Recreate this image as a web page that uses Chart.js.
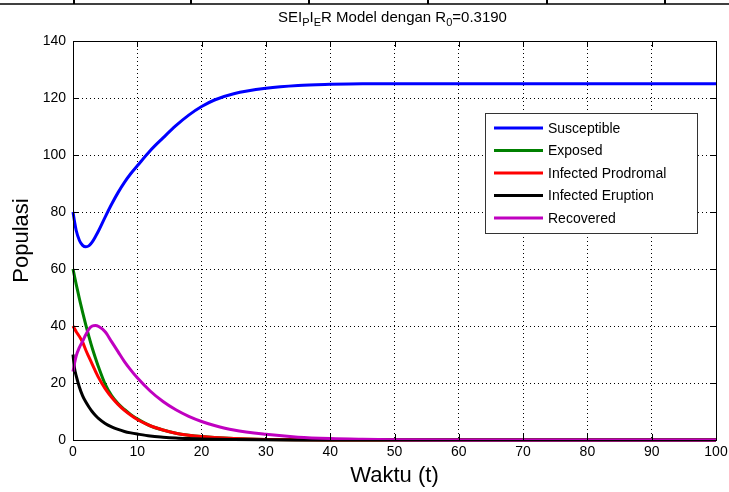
<!DOCTYPE html>
<html>
<head>
<meta charset="utf-8">
<script src="https://cdn.jsdelivr.net/npm/chart.js@4.4.0/dist/chart.umd.min.js"></script>
<style>
  html, body { margin: 0; padding: 0; background: #fff; }
  #wrap { width: 729px; height: 492px; position: relative; }
</style>
</head>
<body>
<div id="wrap"><canvas id="mychart"></canvas></div>
<script>
// time points (t) and population values
const times       = [0, 0.25, 0.5, 1, 1.5, 2, 2.5, 3, 3.5, 4, 5, 6, 7, 8, 9, 10, 12, 14, 16, 18, 20, 22, 25, 30, 35, 40, 45, 50, 60, 70, 80, 90, 100];
const susceptible = [80, 76.5, 73.5, 70, 68.3, 67.8, 68.2, 69.5, 71.4, 73.5, 78.2, 82.7, 86.8, 90.4, 93.5, 96.2, 101.5, 106, 110.3, 114, 117, 119.3, 121.5, 123.4, 124.4, 124.8, 125, 125, 125, 125, 125, 125, 125];
const exposed     = [60, 57.3, 54.6, 49.5, 44.8, 40.3, 36.1, 32.2, 28.7, 25.4, 19.6, 15.6, 12.8, 10.7, 8.9, 7.4, 5.0, 3.5, 2.4, 1.7, 1.2, 0.85, 0.5, 0.2, 0.08, 0.03, 0.01, 0, 0, 0, 0, 0, 0];
const prodromal   = [40, 39, 38, 36.3, 34.3, 31.5, 29, 26.5, 24.1, 21.8, 18, 15, 12.5, 10.4, 8.7, 7.2, 5.0, 3.5, 2.4, 1.7, 1.2, 0.85, 0.5, 0.2, 0.08, 0.03, 0.01, 0, 0, 0, 0, 0, 0];
const eruption    = [30, 25, 22.5, 18.5, 15.5, 13.3, 11.5, 9.9, 8.6, 7.5, 5.8, 4.6, 3.7, 3.0, 2.5, 2.1, 1.4, 1.0, 0.7, 0.5, 0.35, 0.25, 0.15, 0.05, 0.02, 0.01, 0, 0, 0, 0, 0, 0, 0];
const recovered   = [24, 27, 29.5, 32.5, 34.7, 37, 39, 40, 40.2, 39.8, 38, 34.5, 31, 27.5, 24.5, 21.8, 17.2, 13.5, 10.6, 8.3, 6.5, 5.1, 3.5, 2.0, 1.0, 0.5, 0.25, 0.1, 0, 0, 0, 0, 0];

const seriesNames  = ['Susceptible', 'Exposed', 'Infected Prodromal', 'Infected Eruption', 'Recovered'];
const seriesValues = [susceptible, exposed, prodromal, eruption, recovered];
const seriesColors = ['#0000ff', '#008000', '#ff0000', '#000000', '#c000c0'];

const FONT = '"Liberation Sans", Arial, sans-serif';

// extra drawing: frame, inward ticks, title with subscripts, boxed legend
const decor = {
  id: 'decor',
  beforeDraw(chart) {
    const c = chart.ctx;
    c.save();
    c.fillStyle = '#fff';
    c.fillRect(0, 0, chart.width, chart.height);
    c.restore();
  },
  afterDraw(chart) {
    const c = chart.ctx;
    const a = chart.chartArea;
    const xs = chart.scales.x, ys = chart.scales.y;
    c.save();

    // leftover edge of the figure above
    c.strokeStyle = '#000';
    c.lineWidth = 1.5;
    c.beginPath();
    c.moveTo(0, 4); c.lineTo(chart.width, 4);
    c.stroke();
    c.lineWidth = 2;
    c.beginPath();
    [74, 191, 309, 428, 547, 665].forEach(px => { c.moveTo(px, 0); c.lineTo(px, 4); });
    c.stroke();

    // plot frame
    c.lineWidth = 1;
    c.strokeRect(Math.round(a.left) + 0.5, Math.round(a.top) + 0.5, Math.round(a.right - a.left), Math.round(a.bottom - a.top));

    // inward tick marks
    c.beginPath();
    xs.ticks.forEach(t => {
      const px = Math.round(xs.getPixelForValue(t.value)) + 0.5;
      c.moveTo(px, a.bottom); c.lineTo(px, a.bottom - 6);
      c.moveTo(px, a.top); c.lineTo(px, a.top + 6);
    });
    ys.ticks.forEach(t => {
      const py = Math.round(ys.getPixelForValue(t.value)) + 0.5;
      c.moveTo(a.left, py); c.lineTo(a.left + 6, py);
      c.moveTo(a.right, py); c.lineTo(a.right - 6, py);
    });
    c.stroke();

    // title with subscripts
    const parts = [['SEI', 0], ['P', 1], ['I', 0], ['E', 1], ['R Model dengan R', 0], ['0', 1], ['=0.3190', 0]];
    const mainF = '15px ' + FONT, subF = '11px ' + FONT;
    let total = 0;
    parts.forEach(p => { c.font = p[1] ? subF : mainF; total += c.measureText(p[0]).width; });
    let x = (a.left + a.right) / 2 - 2 - total / 2;
    const base = 22;
    c.fillStyle = '#000';
    c.textBaseline = 'alphabetic';
    c.textAlign = 'left';
    parts.forEach(p => {
      c.font = p[1] ? subF : mainF;
      c.fillText(p[0], x, p[1] ? base + 4 : base);
      x += c.measureText(p[0]).width;
    });

    // legend box
    const bx = a.right - 231, by = 113, bw = 212, bh = 120;
    c.fillStyle = '#fff';
    c.fillRect(bx, by, bw, bh);
    c.strokeStyle = '#333';
    c.lineWidth = 1;
    c.strokeRect(bx + 0.5, by + 0.5, bw, bh);
    c.font = '14px ' + FONT;
    c.textBaseline = 'middle';
    chart.data.datasets.forEach((ds, i) => {
      const ly = by + 15 + i * 22.5;
      c.strokeStyle = ds.borderColor;
      c.lineWidth = 3;
      c.beginPath();
      c.moveTo(bx + 9, ly); c.lineTo(bx + 58, ly);
      c.stroke();
      c.fillStyle = '#000';
      c.fillText(ds.label, bx + 63, ly + 1);
    });
    c.restore();
  }
};

const ctx = document.getElementById('mychart');
new Chart(ctx, {
  type: 'line',
  data: {
    datasets: seriesNames.map((name, i) => ({
      label: name,
      data: times.map((t, j) => ({ x: t, y: seriesValues[i][j] })),
      borderColor: seriesColors[i],
      backgroundColor: seriesColors[i],
      borderWidth: 3,
      pointRadius: 0,
      cubicInterpolationMode: 'monotone',
      clip: false,
      order: seriesNames.length - 1 - i
    }))
  },
  options: {
    responsive: true,
    maintainAspectRatio: false,
    animation: false,
    devicePixelRatio: 1,
    layout: { padding: { top: 41, right: 13, left: 0, bottom: 0 } },
    plugins: { legend: { display: false }, title: { display: false }, tooltip: { enabled: false } },
    scales: {
      x: {
        type: 'linear', min: 0, max: 100,
        afterFit(s) { s.height = 52; s.paddingRight = 0; s.paddingLeft = 0; },
        ticks: { stepSize: 10, color: '#000', font: { family: FONT, size: 14 }, padding: 4, maxRotation: 0 },
        grid: { color: '#000', lineWidth: 1, drawTicks: false, tickLength: 0 },
        border: { color: '#000', width: 1, dash: [1, 3] },
        title: { display: true, text: 'Waktu (t)', color: '#000', font: { family: FONT, size: 22 }, padding: { top: 0, bottom: 3 } }
      },
      y: {
        min: 0, max: 140,
        afterFit(s) { s.width = 73; s.paddingTop = 0; s.paddingBottom = 0; },
        ticks: { stepSize: 20, color: '#000', font: { family: FONT, size: 14 }, padding: 7 },
        grid: { color: '#000', lineWidth: 1, drawTicks: false, tickLength: 0 },
        border: { color: '#000', width: 1, dash: [1, 3] },
        title: { display: true, text: 'Populasi', color: '#000', font: { family: FONT, size: 22 }, padding: { top: 9, bottom: 0 } }
      }
    }
  },
  plugins: [decor]
});
</script>
</body>
</html>
